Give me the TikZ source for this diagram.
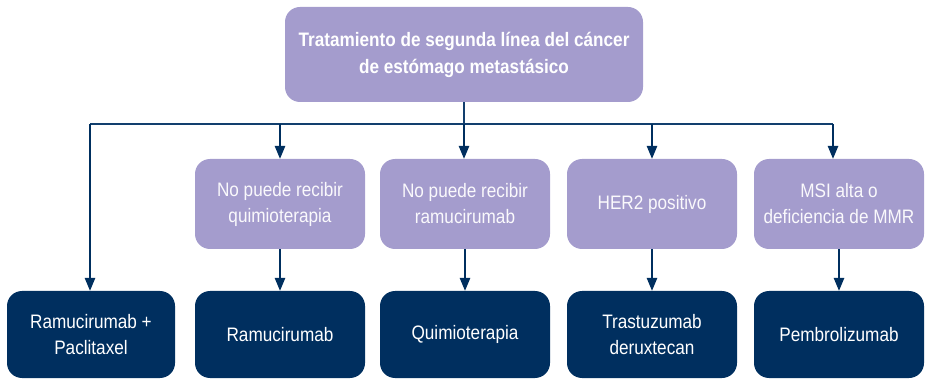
\documentclass[tikz,border=0pt]{standalone}
\usepackage{fontspec}
\setmainfont{Liberation Sans}[FakeStretch=0.88]
\usetikzlibrary{arrows.meta}
\definecolor{lav}{HTML}{A49CCD}
\definecolor{navy}{HTML}{002F5F}
\definecolor{linec}{HTML}{123F6E}
\begin{document}
\begin{tikzpicture}[x=1pt,y=-1pt,
  box/.style={rounded corners=15pt, inner sep=0pt, align=center, text=white,
    font=\fontsize{19.5}{26}\selectfont},
  light/.style={box, fill=lav, minimum width=170pt, minimum height=90pt, text=white!94!lav},
  dark/.style={box, fill=navy, minimum width=170pt, minimum height=87pt},
  conn/.style={draw=linec, line width=1.3pt},
  arr/.style={conn, -{Triangle[length=13pt,width=10.5pt]}, navy}]
\useasboundingbox (0,0) rectangle (926,379);
\node[box, fill=lav, minimum width=358pt, minimum height=95pt,
  font=\fontsize{19.5}{27}\selectfont\bfseries] (top) at (464,54.5)
  {Tratamiento de segunda línea del cáncer\\de estómago metastásico};
\node[light] (m1) at (280,204) {No puede recibir\\quimioterapia};
\node[light] (m2) at (465,204) {No puede recibir\\ramucirumab};
\node[light] (m3) at (652,204) {HER2 positivo};
\node[light] (m4) at (839,204) {MSI alta o\\deficiencia de MMR};
\node[dark, minimum width=168pt] (b1) at (91,334.5) {Ramucirumab +\\Paclitaxel};
\node[dark] (b2) at (280,334.5) {Ramucirumab};
\node[dark] (b3) at (465,334.5) {Quimioterapia};
\node[dark] (b4) at (652,334.5) {Trastuzumab\\deruxtecan};
\node[dark] (b5) at (839,334.5) {Pembrolizumab};
\coordinate (hl) at (90,124);
\coordinate (hr) at (833,124);
\draw[conn] (top.south) -- (top.south |- hl);
\draw[conn] (hl) -- (hr);
\draw[arr] (hl) -- (hl |- b1.north);
\draw[arr] (m1.north |- hl) -- (m1.north);
\draw[arr] (top.south |- hl) -- (top.south |- m2.north);
\draw[arr] (m3.north |- hl) -- (m3.north);
\draw[arr] (hr) -- (hr |- m4.north);
\draw[arr] (m1.south) -- (b2.north);
\draw[arr] (m2.south) -- (b3.north);
\draw[arr] (m3.south) -- (b4.north);
\draw[arr] (m4.south) -- (b5.north);
\end{tikzpicture}
\end{document}
